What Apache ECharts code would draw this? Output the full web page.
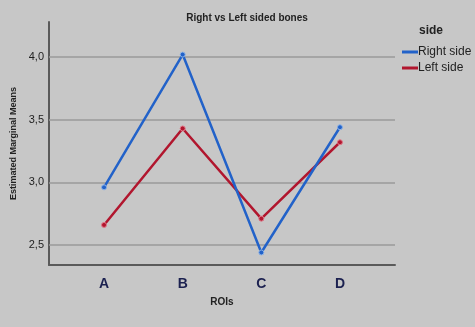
<!DOCTYPE html>
<html>
<head>
<meta charset="utf-8">
<script src="https://cdn.jsdelivr.net/npm/echarts@6/dist/echarts.min.js"></script>
<style>
  html, body { margin: 0; padding: 0; background: #c7c7c7; }
  #chart { width: 475px; height: 327px; }
</style>
</head>
<body>
<div id="chart"></div>
<script>
// data
const rois = ['A', 'B', 'C', 'D']
const rightSide = [2.96, 4.02, 2.44, 3.44]
const leftSide = [2.66, 3.43, 2.71, 3.32]
const yTicks = [2.5, 3.0, 3.5, 4.0]

const myChart = echarts.init(document.getElementById('chart'))

const toPoints = (vals) => vals.map((v, i) => [i, v])

const option = {
  backgroundColor: '#c7c7c7',
  animation: false,
  textStyle: { fontFamily: 'Liberation Sans, Arial, sans-serif' },
  title: {
    text: 'Right vs Left sided bones',
    left: 242,
    textAlign: 'center',
    top: 8,
    textStyle: { fontSize: 10, fontWeight: 'bold', color: '#222' }
  },
  legend: {
    data: ['Right side', 'Left side'],
    orient: 'vertical',
    left: 397,
    top: 41,
    itemWidth: 16,
    itemHeight: 3,
    itemGap: 4,
    icon: 'rect',
    itemStyle: { borderWidth: 0 },
    textStyle: { fontSize: 12, color: '#222', padding: [0, 0, 0, -5] }
  },
  graphic: [
    {
      type: 'text',
      left: 419,
      top: 25,
      style: { text: 'side', font: 'bold 12px Liberation Sans, Arial, sans-serif', fill: '#222' }
    }
  ],
  grid: { left: 49, right: 80, top: 22, bottom: 62 },
  xAxis: {
    type: 'value',
    min: -0.7,
    max: 3.7,
    name: 'ROIs',
    nameLocation: 'middle',
    nameGap: 32,
    nameTextStyle: { fontSize: 10, fontWeight: 'bold', color: '#222' },
    axisLine: { show: true, onZero: false, lineStyle: { color: '#5a5a5a', width: 2 } },
    axisTick: { show: false },
    splitLine: { show: false },
    axisLabel: {
      customValues: [0, 1, 2, 3],
      formatter: (v) => rois[Math.round(v)],
      margin: 12,
      fontSize: 14,
      fontWeight: 'bold',
      color: '#1c2150'
    }
  },
  yAxis: {
    type: 'value',
    min: 2.34,
    max: 4.28,
    name: 'Estimated Marginal Means',
    nameLocation: 'middle',
    nameGap: 30,
    nameTextStyle: { fontSize: 9, fontWeight: 'bold', color: '#222' },
    axisLine: { show: true, onZero: false, lineStyle: { color: '#5a5a5a', width: 2 } },
    axisTick: { show: false, customValues: yTicks },
    splitLine: { show: false },
    axisLabel: {
      customValues: yTicks,
      formatter: (v) => v.toFixed(1).replace('.', ','),
      fontSize: 11,
      color: '#1e1e1e',
      margin: 5
    }
  },
  series: [
    {
      name: 'Right side',
      type: 'line',
      data: toPoints(rightSide),
      symbol: 'circle',
      symbolSize: 5,
      lineStyle: { color: '#2262c9', width: 2.5 },
      itemStyle: { color: '#2262c9', borderColor: '#8fb4e6', borderWidth: 1 },
      z: 3,
      markLine: {
        silent: true,
        symbol: 'none',
        label: { show: false },
        lineStyle: { color: '#9a9a9a', width: 1.5, type: 'solid' },
        data: yTicks.map((t) => ({ yAxis: t })),
        z: 1
      }
    },
    {
      name: 'Left side',
      type: 'line',
      data: toPoints(leftSide),
      symbol: 'circle',
      symbolSize: 5,
      lineStyle: { color: '#b1162e', width: 2.5 },
      itemStyle: { color: '#b1162e', borderColor: '#e07a8a', borderWidth: 1 },
      z: 2
    }
  ]
}

myChart.setOption(option)
</script>
</body>
</html>
